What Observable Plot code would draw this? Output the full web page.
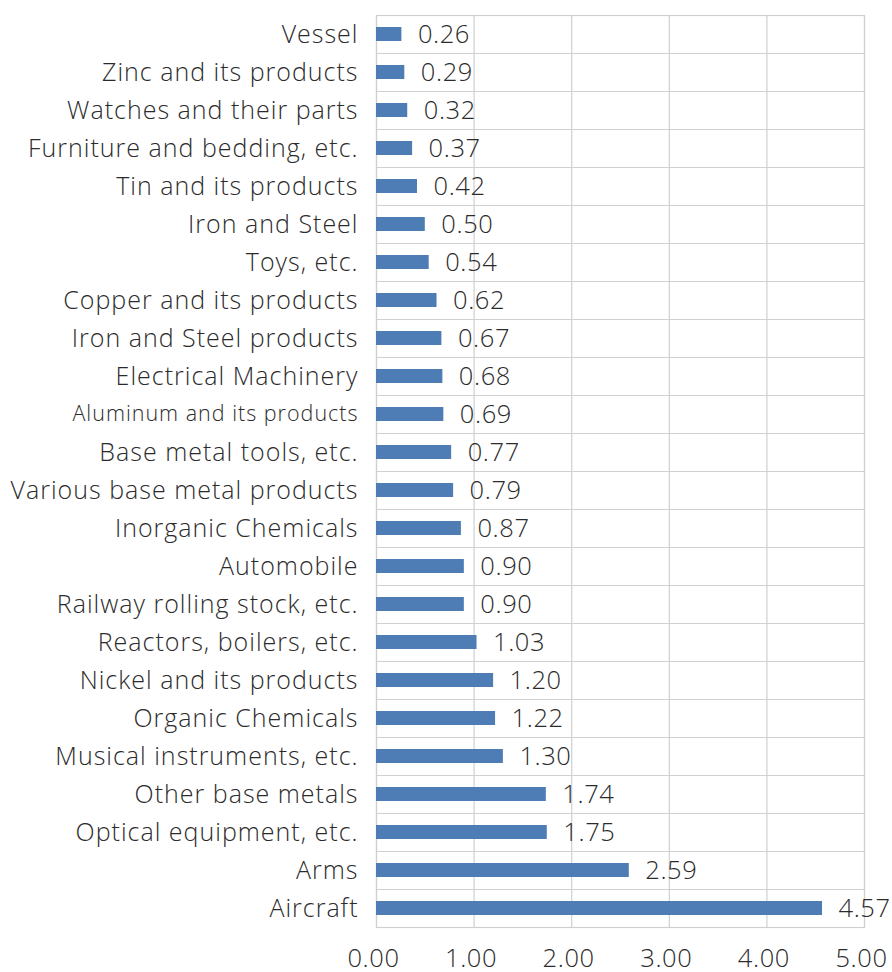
<!DOCTYPE html>
<html>
<head>
<meta charset="utf-8">
<script src="https://cdn.jsdelivr.net/npm/d3@7"></script>
<script src="https://cdn.jsdelivr.net/npm/@observablehq/plot@0.6"></script>
<style>
  html, body { margin: 0; padding: 0; background: #fff; }
  #chart svg { display: block; }
  #chart svg text { letter-spacing: 0.6px; }
  #chart svg g.cat text { letter-spacing: 1px; }
</style>
</head>
<body>
<div id="chart"></div>
<script>
const categories = [
  "Vessel", "Zinc and its products", "Watches and their parts", "Furniture and bedding, etc.",
  "Tin and its products", "Iron and Steel", "Toys, etc.", "Copper and its products",
  "Iron and Steel products", "Electrical Machinery", "Aluminum and its products",
  "Base metal tools, etc.", "Various base metal products", "Inorganic Chemicals",
  "Automobile", "Railway rolling stock, etc.", "Reactors, boilers, etc.",
  "Nickel and its products", "Organic Chemicals", "Musical instruments, etc.",
  "Other base metals", "Optical equipment, etc.", "Arms", "Aircraft"
];
const values = [0.26, 0.29, 0.32, 0.37, 0.42, 0.50, 0.54, 0.62, 0.67, 0.68, 0.69, 0.77,
  0.79, 0.87, 0.90, 0.90, 1.03, 1.20, 1.22, 1.30, 1.74, 1.75, 2.59, 4.57];
const xTicks = [0, 1, 2, 3, 4, 5];
const smallLabels = ["Aluminum and its products"];

const data = categories.map((c, i) => ({category: c, value: values[i]}));

const W = 892, H = 972;
const mTop = 15, mBottom = 45, mLeft = 376, mRight = 28;
const step = (H - mTop - mBottom) / categories.length;
const font = "'Open Sans', 'Noto Sans', sans-serif";
const grid = "#d0d0d0";
const textColor = "#2b2b2b";

const chart = Plot.plot({
  width: W,
  height: H,
  marginTop: mTop,
  marginBottom: mBottom,
  marginLeft: mLeft,
  marginRight: mRight,
  style: {fontFamily: font, color: textColor, background: "#fff"},
  x: {domain: [0, 5], ticks: xTicks, tickFormat: d => d.toFixed(2), label: null},
  y: {domain: categories, paddingInner: 0.63, paddingOuter: 0.315, label: null, axis: null},
  marks: [
    Plot.gridX(xTicks, {stroke: grid, strokeOpacity: 1, strokeWidth: 1.2}),
    Plot.ruleY(categories, {y: d => d, dy: step / 2, stroke: grid, strokeWidth: 1.2}),
    Plot.frame({stroke: grid, strokeWidth: 1.2}),
    Plot.barX(data, {x: "value", y: "category", fill: "#4e7db5"}),
    Plot.text(data, {
      x: "value", y: "category", text: d => d.value.toFixed(2),
      textAnchor: "start", dx: 16, fontSize: 25.5, fontWeight: 300, fill: textColor
    }),
    Plot.text(data, {
      x: 0, y: "category", text: "category",
      textAnchor: "end", dx: -18, className: "cat",
      fontSize: d => smallLabels.includes(d.category) ? 21.5 : 25,
      fontWeight: 300, fill: textColor
    }),
    Plot.axisX(xTicks, {
      tickSize: 0, tickPadding: 21, fontSize: 25.5, fontWeight: 300, dx: -3,
      tickFormat: d => d.toFixed(2), label: null, fill: textColor
    })
  ]
});
document.getElementById("chart").appendChild(chart);
</script>
</body>
</html>
